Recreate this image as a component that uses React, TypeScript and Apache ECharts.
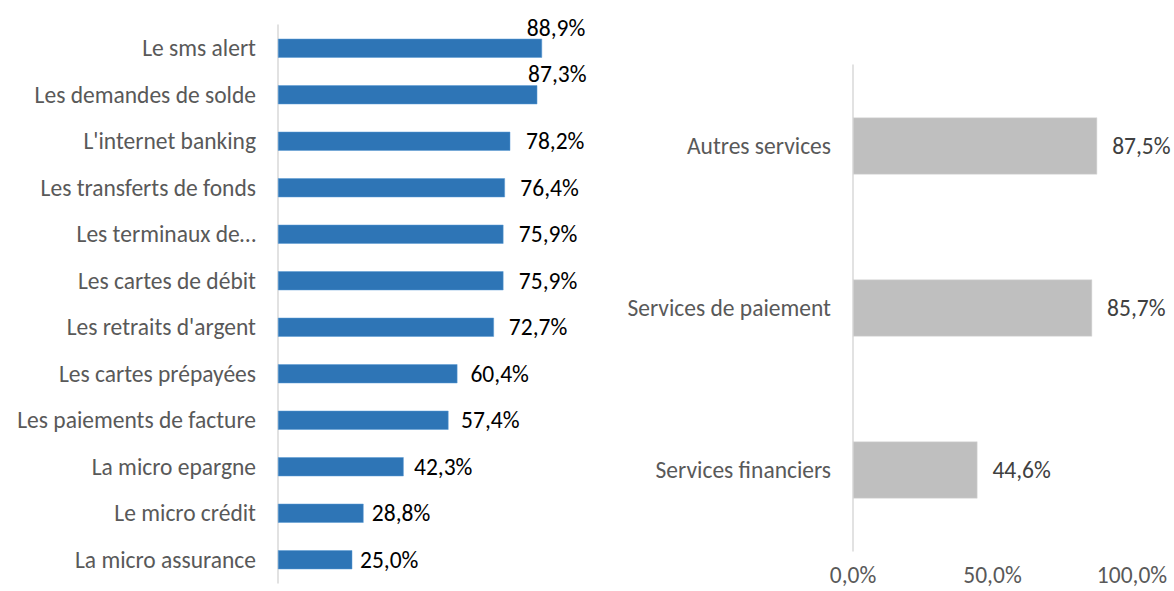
import React, { useEffect, useRef } from "react";
import * as echarts from "echarts";

const leftCategories = [
  "Le sms alert",
  "Les demandes de solde",
  "L'internet banking",
  "Les transferts de fonds",
  "Les terminaux de…",
  "Les cartes de débit",
  "Les retraits d'argent",
  "Les cartes prépayées",
  "Les paiements de facture",
  "La micro epargne",
  "Le micro crédit",
  "La micro assurance",
];
const leftValues = [88.9, 87.3, 78.2, 76.4, 75.9, 75.9, 72.7, 60.4, 57.4, 42.3, 28.8, 25.0];

const rightCategories = ["Autres services", "Services de paiement", "Services financiers"];
const rightValues = [87.5, 85.7, 44.6];

const xTickLabels = ["0,0%", "50,0%", "100,0%"];

const FONT = "Carlito, Lato, 'Open Sans', sans-serif";
const FS = 23.5;
const fmt = (v: number) => v.toFixed(1).replace(".", ",") + "%";

export default function App() {
  const ref = useRef<HTMLDivElement>(null);
  useEffect(() => {
    document.body.style.margin = "0";
    if (!ref.current) return;
    const chart = echarts.init(ref.current, undefined, { renderer: "svg" });

    const leftData = leftValues.map((v, i) => {
      if (i < 2) {
        return {
          value: v,
          label: {
            position: ["100%", 0],
            align: "center",
            verticalAlign: "bottom",
            offset: [i === 0 ? 14 : 20, 1],
          },
        };
      }
      return { value: v, label: { distance: 4 + v * 0.15 } };
    });

    chart.setOption({
      animation: false,
      textStyle: { fontFamily: FONT },
      grid: [
        { left: 278, top: 25, width: 297, height: 558 },
        { left: 853, top: 65, width: 279, height: 486 },
      ],
      xAxis: [
        {
          gridIndex: 0,
          type: "value",
          min: 0,
          max: 100,
          show: false,
        },
        {
          gridIndex: 1,
          type: "value",
          min: 0,
          max: 100,
          interval: 50,
          axisLine: { show: false },
          axisTick: { show: false },
          splitLine: { show: false },
          axisLabel: {
            color: "#595959",
            fontSize: FS,
            fontFamily: FONT,
            lineHeight: 20,
            margin: 14,
            formatter: (v: number) => xTickLabels[Math.round(v / 50)] ?? "",
          },
        },
      ],
      yAxis: [
        {
          gridIndex: 0,
          type: "category",
          data: leftCategories,
          inverse: true,
          axisLine: { lineStyle: { color: "#d9d9d9", width: 1.5 } },
          axisTick: { show: false },
          axisLabel: { color: "#595959", fontSize: FS, fontFamily: FONT, margin: 22 },
        },
        {
          gridIndex: 1,
          type: "category",
          data: rightCategories,
          inverse: true,
          axisLine: { lineStyle: { color: "#d9d9d9", width: 1.5 } },
          axisTick: { show: false },
          axisLabel: { color: "#595959", fontSize: FS, fontFamily: FONT, margin: 22 },
        },
      ],
      series: [
        {
          type: "bar",
          xAxisIndex: 0,
          yAxisIndex: 0,
          data: leftData,
          barWidth: 19,
          itemStyle: { color: "#2e75b6", borderColor: "#5b9bd5", borderWidth: 0.5 },
          label: {
            show: true,
            position: "right",
            color: "#000000",
            fontSize: FS,
            fontFamily: FONT,
            formatter: (p: any) => fmt(p.value),
          },
        },
        {
          type: "bar",
          xAxisIndex: 1,
          yAxisIndex: 1,
          data: rightValues,
          barWidth: 57,
          itemStyle: { color: "#bfbfbf", borderColor: "#d9d9d9", borderWidth: 0.5 },
          label: {
            show: true,
            position: "right",
            distance: 15,
            color: "#404040",
            fontSize: FS,
            fontFamily: FONT,
            formatter: (p: any) => fmt(p.value),
          },
        },
      ],
    });
    return () => chart.dispose();
  }, []);
  return <div ref={ref} style={{ width: 1174, height: 591 }} />;
}
